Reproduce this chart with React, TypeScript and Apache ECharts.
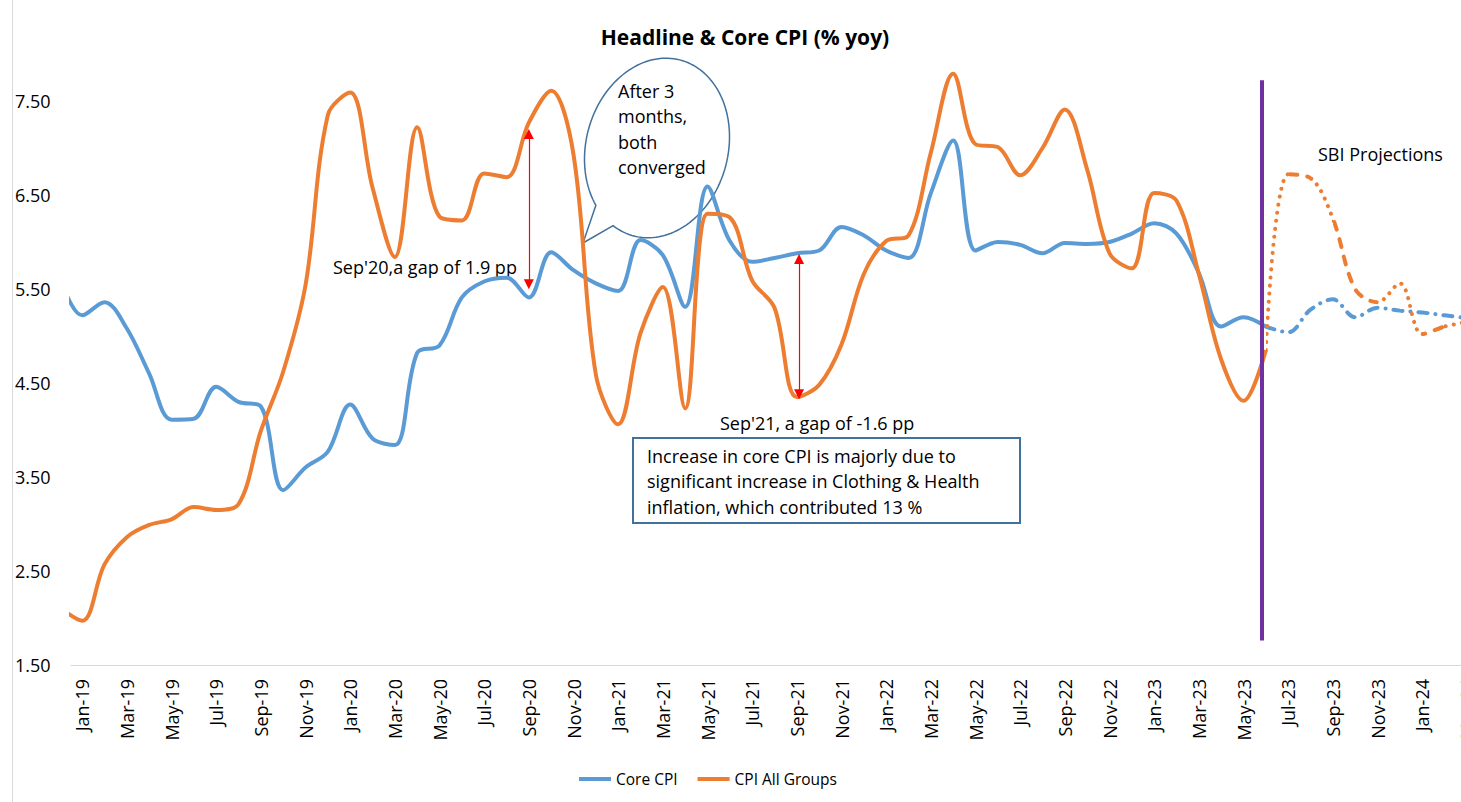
import React, { useEffect, useRef } from 'react';
import * as echarts from 'echarts';

const FONT = "'Open Sans', sans-serif";
const BLUE = '#5B9BD5';
const ORANGE = '#ED7D31';

// Months (Dec-18 is only partly visible at the left edge)
const months = [
  'Dec-18',
  'Jan-19', 'Feb-19', 'Mar-19', 'Apr-19', 'May-19', 'Jun-19', 'Jul-19', 'Aug-19', 'Sep-19', 'Oct-19', 'Nov-19', 'Dec-19',
  'Jan-20', 'Feb-20', 'Mar-20', 'Apr-20', 'May-20', 'Jun-20', 'Jul-20', 'Aug-20', 'Sep-20', 'Oct-20', 'Nov-20', 'Dec-20',
  'Jan-21', 'Feb-21', 'Mar-21', 'Apr-21', 'May-21', 'Jun-21', 'Jul-21', 'Aug-21', 'Sep-21', 'Oct-21', 'Nov-21', 'Dec-21',
  'Jan-22', 'Feb-22', 'Mar-22', 'Apr-22', 'May-22', 'Jun-22', 'Jul-22', 'Aug-22', 'Sep-22', 'Oct-22', 'Nov-22', 'Dec-22',
  'Jan-23', 'Feb-23', 'Mar-23', 'Apr-23', 'May-23', 'Jun-23', 'Jul-23', 'Aug-23', 'Sep-23', 'Oct-23', 'Nov-23', 'Dec-23',
  'Jan-24', 'Feb-24', 'Mar-24',
];
const axisLabels = months.slice(1);

// Actual values, Dec-18 .. Jun-23
const coreActual = [
  5.62,
  5.22, 5.36, 5.08, 4.60, 4.11, 4.12, 4.46, 4.30, 4.25, 3.36, 3.60, 3.77,
  4.27, 3.91, 3.84, 4.82, 4.90, 5.41, 5.58, 5.62, 5.41, 5.89, 5.70, 5.56,
  5.48, 6.02, 5.86, 5.31, 6.59, 6.01, 5.79, 5.83, 5.88, 5.91, 6.16, 6.07,
  5.91, 5.83, 6.52, 7.08, 5.91, 6.00, 5.97, 5.88, 5.99, 5.98, 6.00, 6.09,
  6.20, 6.09, 5.67, 5.10, 5.20, 5.10,
];
const cpiActual = [
  2.11,
  1.97, 2.57, 2.86, 2.99, 3.05, 3.18, 3.15, 3.21, 3.99, 4.62, 5.54, 7.35,
  7.59, 6.58, 5.84, 7.22, 6.27, 6.23, 6.73, 6.69, 7.27, 7.61, 6.93, 4.59,
  4.06, 5.03, 5.52, 4.23, 6.30, 6.26, 5.59, 5.30, 4.35, 4.48, 4.91, 5.66,
  6.01, 6.07, 6.95, 7.79, 7.04, 7.01, 6.71, 7.00, 7.41, 6.77, 5.88, 5.72,
  6.52, 6.44, 5.66, 4.75, 4.31, 4.85,
];

// SBI projections, Jun-23 .. Mar-24
const coreProjection = [5.10, 5.04, 5.28, 5.39, 5.20, 5.30, 5.27, 5.25, 5.22, 5.19];
const cpiProjection = [4.85, 6.72, 6.68, 6.25, 5.50, 5.36, 5.56, 5.02, 5.10, 5.15];

// index of each series' first month on the month axis (Jan-19 = 0)
const actualStart = -1;
const projectionStart = 53;

// line-style segments of the CPI projection (month-index ranges)
const cpiDottedSegments = [[53, 54], [55, 56], [58, 60], [61, 62.5]];
const cpiDashedSegments = [[54, 55], [56, 58], [60, 61]];

// annotation arrows: [month index, top value, bottom value]
const gapArrows = [
  [20, 7.15, 5.55],
  [32.1, 5.82, 4.38],
];
const projectionDivider = [52.82, 7.72, 1.76];

const yTicks = { min: 1.5, max: 8, interval: 1 };

const toPairs = (vals: number[], start: number) => vals.map((v, i) => [start + i, v]);

const segPieces = (segs: number[][]) =>
  segs.map(([a, b]) => ({ gte: a, lt: b, color: ORANGE }));

// speech-bubble outline: tilted ellipse with a wedge tail
function bubblePoints() {
  const cx = 657, cy = 148, a = 91, b = 71;
  const phi = (15 * Math.PI) / 180;
  const u = [Math.sin(phi), -Math.cos(phi)];
  const v = [Math.cos(phi), Math.sin(phi)];
  const start = (251.7 * Math.PI) / 180;
  const end = (591.5 * Math.PI) / 180;
  const pts: number[][] = [];
  const n = 140;
  for (let i = 0; i <= n; i++) {
    const t = start + ((end - start) * i) / n;
    const bt = b * Math.cos(t), as = a * Math.sin(t);
    pts.push([cx + bt * v[0] + as * u[0], cy + bt * v[1] + as * u[1]]);
  }
  pts.push([583, 243]);
  return pts;
}

export default function App() {
  const ref = useRef<HTMLDivElement>(null);
  useEffect(() => {
    document.body.style.margin = '0';
    const chart = echarts.init(ref.current!, null, { renderer: 'svg' });
    const txt = (text: string, x: number, y: number, extra: any = {}) => ({
      type: 'text',
      x,
      y,
      silent: true,
      style: {
        text,
        fill: '#000',
        fontSize: 18,
        fontFamily: FONT,
        verticalAlign: 'middle',
        ...extra,
      },
    });
    chart.setOption({
      animation: false,
      backgroundColor: '#fff',
      grid: { left: 71, top: 54, width: 1407, height: 611, containLabel: false },
      legend: {
        data: ['Core CPI', 'CPI All Groups'],
        left: 574,
        top: 766,
        icon: 'rect',
        itemWidth: 32,
        itemHeight: 4,
        itemGap: 20,
        selectedMode: false,
        textStyle: { fontFamily: FONT, fontSize: 15.5, color: '#000' },
      },
      xAxis: [
        {
          type: 'category',
          data: axisLabels,
          boundaryGap: true,
          axisLine: { lineStyle: { color: '#d9d9d9', width: 1 } },
          axisTick: { show: false },
          splitLine: { show: false },
          axisLabel: {
            interval: 1,
            rotate: 90,
            margin: 14,
            fontSize: 18,
            fontFamily: FONT,
            color: '#000',
          },
        },
        { type: 'value', show: false, min: -0.5, max: 62.5 },
      ],
      yAxis: {
        type: 'value',
        min: yTicks.min,
        max: yTicks.max,
        interval: yTicks.interval,
        axisLine: { show: false },
        axisTick: { show: false },
        splitLine: { show: false },
        axisLabel: {
          showMaxLabel: false,
          align: 'left',
          margin: 56,
          fontSize: 18,
          fontFamily: FONT,
          color: '#000',
          formatter: (v: number) => v.toFixed(2),
        },
      },
      visualMap: [
        {
          type: 'piecewise',
          show: false,
          seriesIndex: 3,
          dimension: 0,
          pieces: segPieces(cpiDottedSegments),
          outOfRange: { color: 'rgba(237,125,49,0)' },
        },
        {
          type: 'piecewise',
          show: false,
          seriesIndex: 4,
          dimension: 0,
          pieces: segPieces(cpiDashedSegments),
          outOfRange: { color: 'rgba(237,125,49,0)' },
        },
      ],
      series: [
        {
          name: 'Core CPI',
          type: 'line',
          xAxisIndex: 1,
          data: toPairs(coreActual, actualStart),
          smooth: 0.35,
          symbol: 'none',
          clip: true,
          z: 2,
          lineStyle: { color: BLUE, width: 4 },
          itemStyle: { color: BLUE },
          markLine: {
            silent: true,
            symbol: ['triangle', 'triangle'],
            symbolSize: [10, 10],
            label: { show: false },
            lineStyle: { color: '#FF0000', width: 1.2, type: 'solid' },
            emphasis: { disabled: true },
            data: gapArrows.map(([x, t, b]) => [{ coord: [x, t] }, { coord: [x, b] }]),
          },
        },
        {
          name: 'CPI All Groups',
          type: 'line',
          xAxisIndex: 1,
          data: toPairs(cpiActual, actualStart),
          smooth: 0.35,
          symbol: 'none',
          clip: true,
          z: 3,
          lineStyle: { color: ORANGE, width: 4 },
          itemStyle: { color: ORANGE },
        },
        {
          name: 'Core CPI projection',
          type: 'line',
          xAxisIndex: 1,
          data: toPairs(coreProjection, projectionStart),
          smooth: 0.35,
          symbol: 'none',
          clip: true,
          z: 2,
          lineStyle: { color: BLUE, width: 4, type: [9, 8, 0.1, 8], cap: 'round' },
          itemStyle: { color: BLUE },
          markLine: {
            silent: true,
            symbol: 'none',
            label: { show: false },
            lineStyle: { color: '#7030A0', width: 4, type: 'solid' },
            emphasis: { disabled: true },
            data: [
              [
                { coord: [projectionDivider[0], projectionDivider[1]] },
                { coord: [projectionDivider[0], projectionDivider[2]] },
              ],
            ],
          },
        },
        {
          name: 'CPI projection (dotted)',
          type: 'line',
          xAxisIndex: 1,
          data: toPairs(cpiProjection, projectionStart),
          smooth: 0.35,
          symbol: 'none',
          clip: true,
          z: 3,
          lineStyle: { width: 4, type: [0.1, 8], cap: 'round' },
        },
        {
          name: 'CPI projection (dashed)',
          type: 'line',
          xAxisIndex: 1,
          data: toPairs(cpiProjection, projectionStart),
          smooth: 0.35,
          symbol: 'none',
          clip: true,
          z: 3,
          lineStyle: { width: 4, type: [8, 10], cap: 'round' },
        },
      ],
      graphic: [
        {
          type: 'line',
          silent: true,
          shape: { x1: 12.5, y1: 0, x2: 12.5, y2: 802 },
          style: { stroke: '#d9d9d9', lineWidth: 1 },
        },
        txt('Headline & Core CPI (% yoy)', 745, 37, { fontWeight: 'bold', align: 'center', fontSize: 21 }),
        txt("Sep'20,a gap of 1.9 pp", 333, 267),
        {
          type: 'polygon',
          silent: true,
          shape: { points: bubblePoints() },
          style: { fill: 'none', stroke: '#41719C', lineWidth: 1.5 },
        },
        txt('After 3\nmonths,\nboth\nconverged', 618, 78.5, {
          verticalAlign: 'top',
          lineHeight: 25.3,
        }),
        txt("Sep'21, a gap of -1.6 pp", 720, 423),
        {
          type: 'rect',
          silent: true,
          shape: { x: 633, y: 438, width: 387, height: 85 },
          style: { fill: '#fff', stroke: '#41719C', lineWidth: 2 },
        },
        txt(
          'Increase in core CPI is majorly due to\nsignificant increase in Clothing & Health\ninflation, which contributed 13 %',
          647,
          443,
          { verticalAlign: 'top', lineHeight: 25.5 }
        ),
        txt('SBI Projections', 1318, 154),
      ],
    });
    return () => chart.dispose();
  }, []);
  return (
    <div
      style={{
        position: 'absolute',
        left: 0,
        top: 0,
        width: 1461,
        height: 802,
        overflow: 'hidden',
        background: '#fff',
      }}
    >
      <div ref={ref} style={{ width: 1500, height: 802 }} />
    </div>
  );
}
